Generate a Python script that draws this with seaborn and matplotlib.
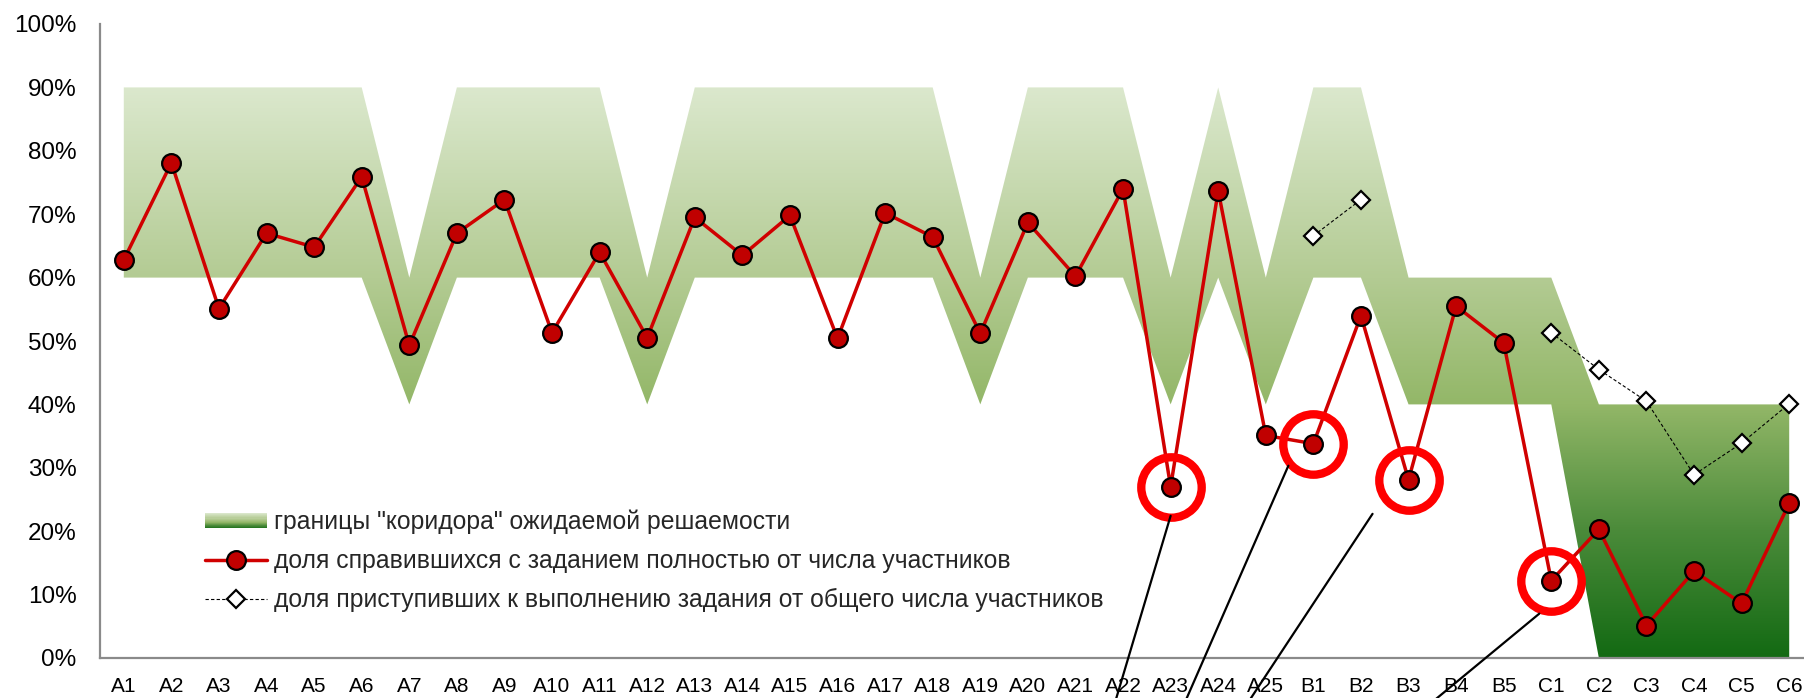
import numpy as np
import pandas as pd
import matplotlib
matplotlib.use('Agg')
import matplotlib.pyplot as plt
import seaborn as sns
from matplotlib.colors import LinearSegmentedColormap
from matplotlib.patches import PathPatch, Rectangle
from matplotlib.lines import Line2D
from matplotlib.legend_handler import HandlerBase
from matplotlib import transforms

# data
tasks = ['A%d' % i for i in range(1, 26)] + ['B%d' % i for i in range(1, 6)] + ['C%d' % i for i in range(1, 7)]
solved = [62.8, 78.1, 55.1, 67.0, 64.8, 75.9, 49.3, 67.0, 72.3, 51.3,
          64.0, 50.5, 69.5, 63.5, 69.8, 50.4, 70.2, 66.4, 51.2, 68.7,
          60.2, 74.0, 27.0, 73.7, 35.1,
          33.8, 54.0, 28.1, 55.5, 49.7,
          12.2, 20.3, 5.1, 13.7, 8.6, 24.4]
started = [np.nan] * 25 + [66.6, 72.3, np.nan, np.nan, np.nan,
                           51.3, 45.5, 40.5, 28.9, 33.9, 40.1]
corridor_low = ([60] * 6 + [40] + [60] * 4 + [40] + [60] * 6 + [40] + [60] * 3 + [40] + [60] + [40]
                + [60, 60, 40, 40, 40] + [40, 0, 0, 0, 0, 0])
corridor_high = ([90] * 6 + [60] + [90] * 4 + [60] + [90] * 6 + [60] + [90] * 3 + [60] + [90] + [60]
                 + [90, 90, 60, 60, 60] + [60, 40, 40, 40, 40, 40])
highlighted = ['A23', 'B1', 'B3', 'C1']

labels = ['границы "коридора" ожидаемой решаемости',
          'доля справившихся с заданием полностью от числа участников',
          'доля приступивших к выполнению задания от общего числа участников']

df = pd.DataFrame({'task': tasks, 'solved': solved, 'started': started,
                   'low': corridor_low, 'high': corridor_high})
df['pos'] = np.arange(len(df))

sns.set_style('white')
plt.rcParams['font.family'] = ['Liberation Sans', 'DejaVu Sans']

fig = plt.figure(figsize=(18.04, 6.98), dpi=100)
W, H = 1804, 698
ax = fig.add_axes([100 / W, 1 - 658 / H, (1813 - 100) / W, (658 - 24) / H])

green = LinearSegmentedColormap.from_list('corridor', [
    (0.0, '#136a13'), (0.2, '#4b8b3a'), (0.4, '#93b768'),
    (0.6, '#b3cb93'), (0.9, '#dbe8cd'), (1.0, '#e3eed8')])

# corridor with vertical gradient
band = ax.fill_between(df['pos'], df['low'], df['high'], facecolor='none', edgecolor='none')
clip = PathPatch(band.get_paths()[0], transform=ax.transData, facecolor='none', edgecolor='none')
ax.add_patch(clip)
grad = np.linspace(0, 1, 256).reshape(-1, 1)
im = ax.imshow(grad, extent=[-0.5, len(df) - 0.5, 0, 100], origin='lower', aspect='auto',
               cmap=green, zorder=1)
im.set_clip_path(clip)

# share of fully solved
sns.lineplot(data=df, x='pos', y='solved', ax=ax, color='#d00000', linewidth=2.5,
             marker='o', markersize=13.5, markerfacecolor='#c00000', markeredgecolor='black',
             markeredgewidth=1.6, zorder=3)

# share of those who started (gaps where no data)
ax.plot(df['pos'], df['started'], color='black', linewidth=0.8, linestyle=(0, (3, 2)),
        marker='D', markersize=9.5, markerfacecolor='white', markeredgecolor='black',
        markeredgewidth=1.6, zorder=3)

# red circles around problem tasks
hl = df[df['task'].isin(highlighted)]
ax.plot(hl['pos'], hl['solved'], linestyle='none', marker='o', markersize=43.5,
        markerfacecolor='none', markeredgecolor='#ff0000', markeredgewidth=6, zorder=4)

# callout lines going down off the picture (pixel offsets: start, direction)
callouts = {'A23': ((0, -29), (-73, -245)),
            'B1': ((-25, -22), (-129, -295)),
            'B3': ((-36, -34), (-163, -247)),
            'C1': ((-12, -33), (-178, -147))}
for _, row in hl.iterrows():
    (sx, sy), (dx, dy) = callouts[row['task']]
    tr = transforms.offset_copy(ax.transData, fig=fig, x=sx, y=sy, units='dots')
    ax.annotate('', xy=(row['pos'], row['solved']), xycoords=tr,
                xytext=(dx, dy), textcoords='offset pixels',
                arrowprops=dict(arrowstyle='-', color='black', lw=1.6, shrinkA=0, shrinkB=0),
                annotation_clip=False, zorder=5)

ax.set_xlim(-0.5, len(df) - 0.5)
ax.set_ylim(0, 100)
ax.set_xticks(df['pos'])
ax.set_xticklabels(df['task'])
ax.set_yticks(range(0, 101, 10))
ax.set_yticklabels(['%d%%' % v for v in range(0, 101, 10)])
ax.set_xlabel('')
ax.set_ylabel('')
ax.tick_params(axis='both', length=0, colors='black')
ax.tick_params(axis='y', pad=17, labelsize=17.5)
ax.tick_params(axis='x', pad=14, labelsize=15)
for side in ['top', 'right']:
    ax.spines[side].set_visible(False)
for side in ['left', 'bottom']:
    ax.spines[side].set_color('#8a8a8a')
    ax.spines[side].set_linewidth(1.6)
ax.grid(False)


class GradientHandler(HandlerBase):
    def create_artists(self, legend, orig_handle, xdescent, ydescent, width, height, fontsize, trans):
        n = 14
        vals = np.linspace(0.08, 0.88, n)
        return [Rectangle((-xdescent, -ydescent + i * height / n), width, height / n * 1.05,
                          facecolor=green(v), edgecolor='none', transform=trans)
                for i, v in enumerate(vals)]


band_handle = Rectangle((0, 0), 1, 1)
solved_handle = Line2D([], [], color='#d00000', linewidth=2.5, marker='o', markersize=13.5,
                       markerfacecolor='#c00000', markeredgecolor='black', markeredgewidth=1.6)
started_handle = Line2D([], [], color='black', linewidth=0.8, linestyle=(0, (3, 2)), marker='D',
                        markersize=9.5, markerfacecolor='white', markeredgecolor='black',
                        markeredgewidth=1.6)
fig.legend([band_handle, solved_handle, started_handle], labels,
           handler_map={Rectangle: GradientHandler()},
           loc='center left', bbox_to_anchor=(205 / W, 1 - 561 / H), frameon=False,
           fontsize=17.8, handlelength=2.5, handleheight=0.55, handletextpad=0.28,
           labelspacing=0.6, borderpad=0, borderaxespad=0, numpoints=1)

fig.savefig('out.png', dpi=100)
